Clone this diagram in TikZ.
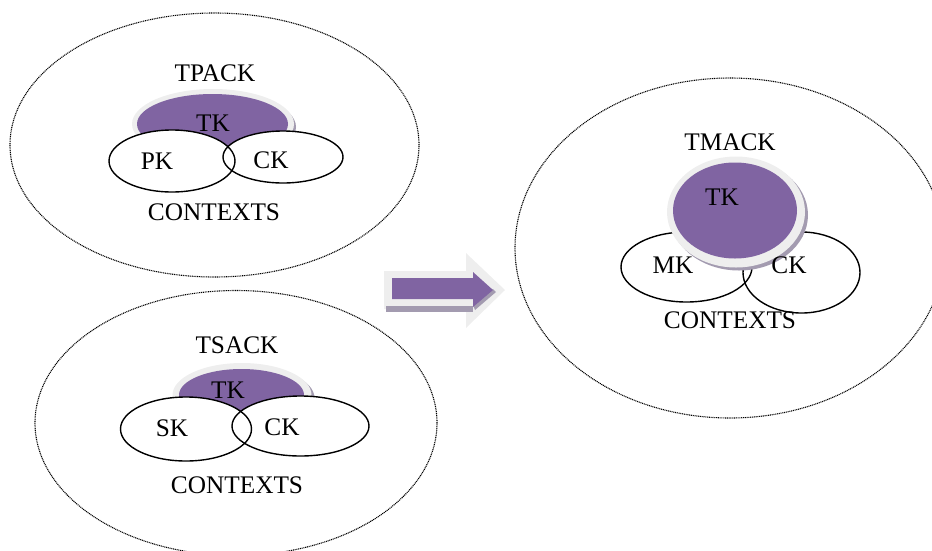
\documentclass[tikz,border=0pt]{standalone}
\usepackage{fontspec}
\setmainfont{Liberation Serif}
\usetikzlibrary{shapes.geometric}
\definecolor{tkpurple}{HTML}{8064A2}
\definecolor{halo}{HTML}{EEEEEE}
\definecolor{haloshadow}{HTML}{A39BB0}
\tikzset{
  outer/.style={ellipse, draw=black, line width=1.1pt, dash pattern=on 1pt off 0.8pt, inner sep=0pt},
  knowbox/.style={ellipse, draw=black, line width=1.4pt, inner sep=0pt},
  knowfill/.style={ellipse, fill=white, inner sep=0pt},
  tkfill/.style={ellipse, fill=tkpurple, inner sep=0pt},
  tkhalo/.style={ellipse, fill=halo, inner sep=0pt},
  tkshadow/.style={ellipse, fill=haloshadow, inner sep=0pt},
  lbl/.style={inner sep=0pt, font=\fontsize{25.3}{29}\selectfont},
}
\begin{document}
\begin{tikzpicture}[x=1pt,y=-1pt]
\useasboundingbox (0,0) rectangle (932,550);
% ---------- top-left: TPACK ----------
\node[outer, minimum width=409pt, minimum height=264pt] (big1) at (214.5,145) {};
\node[tkshadow, minimum width=162pt, minimum height=70pt] (tk1s) at (215,127) {};
\node[tkhalo, minimum width=162pt, minimum height=70pt] (tk1h) at (213,124) {};
\node[tkfill, minimum width=151pt, minimum height=60pt] (tk1) at (212.5,124) {};
\node[knowfill, minimum width=126pt, minimum height=62pt] (pk1f) at (172,161) {};
\node[knowfill, minimum width=120pt, minimum height=52pt] (ck1f) at (283,157) {};
\node[knowbox, minimum width=126pt, minimum height=62pt] (pk1) at (172,161) {};
\node[knowbox, minimum width=120pt, minimum height=52pt] (ck1) at (283,157) {};
\node[lbl] (tpack) at (215,73) {TPACK};
\node[lbl] (tk1t) at (213,123) {TK};
\node[lbl] (pk1t) at (157,161) {PK};
\node[lbl] (ck1t) at (271,160) {CK};
\node[lbl] (ctx1) at (214,212) {CONTEXTS};
% ---------- bottom-left: TSACK ----------
\node[outer, minimum width=402pt, minimum height=265pt] (big2) at (236,423) {};
\node[tkshadow, minimum width=139pt, minimum height=64pt] (tk2s) at (245,398) {};
\node[tkhalo, minimum width=139pt, minimum height=64pt] (tk2h) at (242,395) {};
\node[tkfill, minimum width=125pt, minimum height=52pt] (tk2) at (241.5,395) {};
\node[knowfill, minimum width=131pt, minimum height=64pt] (sk2f) at (186,429) {};
\node[knowfill, minimum width=137pt, minimum height=60pt] (ck2f) at (300.5,426) {};
\node[knowbox, minimum width=131pt, minimum height=64pt] (sk2) at (186,429) {};
\node[knowbox, minimum width=137pt, minimum height=60pt] (ck2) at (300.5,426) {};
\node[lbl] (tsack) at (237,345) {TSACK};
\node[lbl] (tk2t) at (228,390) {TK};
\node[lbl] (sk2t) at (172,428) {SK};
\node[lbl] (ck2t) at (282,427) {CK};
\node[lbl] (ctx2) at (237,485) {CONTEXTS};
% ---------- arrow ----------
\fill[halo] (384,271) -- (466,271) -- (466,253) -- (505,290) -- (466,328) -- (466,309) -- (384,309) -- cycle;
\fill[haloshadow] (386,306) -- (473,306) -- (473,312) -- (386,312) -- cycle;
\fill[haloshadow] (473,305) -- (493,289) -- (496,292) -- (475,310) -- cycle;
\fill[tkpurple] (392,278) -- (473,278) -- (473,272) -- (493,290) -- (473,307) -- (473,299) -- (392,299) -- cycle;
% ---------- right: TMACK ----------
\node[outer, minimum width=430pt, minimum height=340pt] (big3) at (730,248) {};
\node[knowbox, minimum width=131pt, minimum height=70pt] (mk3) at (686.5,267) {};
\node[knowbox, minimum width=117pt, minimum height=81pt] (ck3) at (801.5,272.5) {};
\node[tkshadow, minimum width=138pt, minimum height=111pt] (tk3s) at (739,215) {};
\node[tkhalo, minimum width=138pt, minimum height=111pt] (tk3h) at (736,212) {};
\node[tkfill, minimum width=124pt, minimum height=96pt] (tk3) at (735,210.5) {};
\node[lbl] (tmack) at (730,142) {TMACK};
\node[lbl] (tk3t) at (722,197) {TK};
\node[lbl] (mk3t) at (673,265) {MK};
\node[lbl] (ck3t) at (789,265) {CK};
\node[lbl] (ctx3) at (730,320) {CONTEXTS};
\end{tikzpicture}
\end{document}
